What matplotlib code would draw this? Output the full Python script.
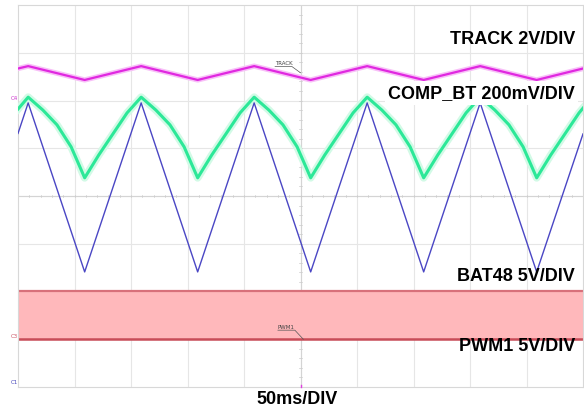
import matplotlib
matplotlib.use("Agg")
import matplotlib.pyplot as plt

# scope traces, in divisions (10 x 8 screen)
track_x = [0.0, 0.18, 1.18, 2.18, 3.18, 4.18, 5.18, 6.18, 7.18, 8.18, 9.18, 10.0]
track_y = [6.67, 6.72, 6.43, 6.72, 6.43, 6.72, 6.43, 6.72, 6.43, 6.72, 6.43, 6.67]

bat_x = [0.0, 0.18, 1.18, 2.18, 3.18, 4.18, 5.18, 6.18, 7.18, 8.18, 9.18, 10.0]
bat_y = [5.31, 5.95, 2.41, 5.95, 2.41, 5.95, 2.41, 5.95, 2.41, 5.95, 2.41, 5.30]

comp_x = [0.00, 0.18, 0.44, 0.69, 0.94, 1.18, 1.43, 1.68, 1.93,
          2.18, 2.44, 2.69, 2.94, 3.18, 3.43, 3.68, 3.93,
          4.18, 4.44, 4.69, 4.94, 5.18, 5.43, 5.68, 5.93,
          6.18, 6.44, 6.69, 6.94, 7.18, 7.43, 7.68, 7.93,
          8.18, 8.44, 8.69, 8.94, 9.18, 9.43, 9.68, 9.93, 10.0]
comp_y = [5.82, 6.07, 5.80, 5.49, 5.03, 4.38, 4.86, 5.30, 5.74,
          6.07, 5.80, 5.49, 5.03, 4.38, 4.86, 5.30, 5.74,
          6.07, 5.80, 5.49, 5.03, 4.38, 4.86, 5.30, 5.74,
          6.07, 5.80, 5.49, 5.03, 4.38, 4.86, 5.30, 5.74,
          6.07, 5.80, 5.49, 5.03, 4.38, 4.86, 5.30, 5.74, 5.84]

pwm_x = [0.0, 10.0]
pwm_low = [1.0, 1.0]
pwm_high = [2.01, 2.01]

labels = ["TRACK 2V/DIV", "COMP_BT 200mV/DIV", "BAT48 5V/DIV", "PWM1 5V/DIV"]
label_y = [0.905, 0.774, 0.328, 0.158]

fig = plt.figure(figsize=(5.84, 4.12), dpi=100)
ax = fig.add_axes([18 / 584, 1 - 387 / 412, 565 / 584, 382 / 412])
ax.set_xlim(0, 10)
ax.set_ylim(0, 8)

# grid
for gx in range(1, 10):
    ax.axvline(gx, color="#e6e6e6", lw=0.8, zorder=0)
for gy in range(1, 8):
    ax.axhline(gy, color="#e6e6e6", lw=0.8, zorder=0)
ax.axvline(5, color="#d4d4d4", lw=0.8, zorder=0)
ax.axhline(4, color="#d4d4d4", lw=0.8, zorder=0)
for i in range(51):
    ax.plot([i * 0.2, i * 0.2], [3.97, 4.03], color="#cccccc", lw=0.5, zorder=0)
for i in range(41):
    ax.plot([4.975, 5.025], [i * 0.2, i * 0.2], color="#cccccc", lw=0.5, zorder=0)
for s in ax.spines.values():
    s.set_color("#d8d8d8")
ax.set_xticks([])
ax.set_yticks([])

# PWM band
ax.fill_between(pwm_x, pwm_low, pwm_high, color="#ffb8bb", lw=0, zorder=1)
ax.plot(pwm_x, pwm_high, color="#d8707a", lw=1.6, zorder=2)
ax.plot(pwm_x, pwm_low, color="#c84c58", lw=1.8, zorder=2)

# TRACK
ax.plot(track_x, track_y, color="#f8c0f8", lw=3.8, zorder=3, solid_joinstyle="round")
ax.plot(track_x, track_y, color="#e028e0", lw=1.6, zorder=4)

# COMP_BT
ax.plot(comp_x, comp_y, color="#d2fae6", lw=5.5, zorder=3, solid_joinstyle="round")
ax.plot(comp_x, comp_y, color="#2ce898", lw=2.2, zorder=4)

# BAT48
ax.plot(bat_x, bat_y, color="#4a46c4", lw=1.0, zorder=5)

# small scope markers
ax.text(4.7, 6.72, "TRACK", fontsize=4, color="#444444", ha="center", va="bottom", zorder=6)
ax.plot([4.55, 4.85, 5.0], [6.71, 6.71, 6.58], color="#555555", lw=0.5, zorder=6)
ax.text(4.75, 1.2, "PWM1", fontsize=4, color="#444444", ha="center", va="bottom", zorder=6)
ax.plot([4.6, 4.9, 5.05], [1.19, 1.19, 1.0], color="#555555", lw=0.5, zorder=6)
fig.text(14 / 584, 1 - 98 / 412, "C4", fontsize=4, color="#cc33cc", ha="center", va="center")
fig.text(14 / 584, 1 - 336 / 412, "C3", fontsize=4, color="#cc5566", ha="center", va="center")
fig.text(14 / 584, 1 - 383 / 412, "C1", fontsize=4, color="#4444bb", ha="center", va="center")
ax.plot([5, 5], [0, 0.05], color="#e040e0", lw=1.0, zorder=6, clip_on=False)

# channel labels
for i, txt in enumerate(labels):
    bbox = None
    if txt.startswith("COMP"):
        bbox = dict(facecolor="white", edgecolor="none", pad=2.5)
    fig.text(575 / 584, label_y[i], txt, fontsize=13, fontweight="bold",
             family="Liberation Sans", ha="right", va="center", bbox=bbox, zorder=10)

fig.text(297 / 584, 1 - 400 / 412, "50ms/DIV", fontsize=13, fontweight="bold",
         family="Liberation Sans", ha="center", va="center")

fig.savefig("out.png", dpi=100)
